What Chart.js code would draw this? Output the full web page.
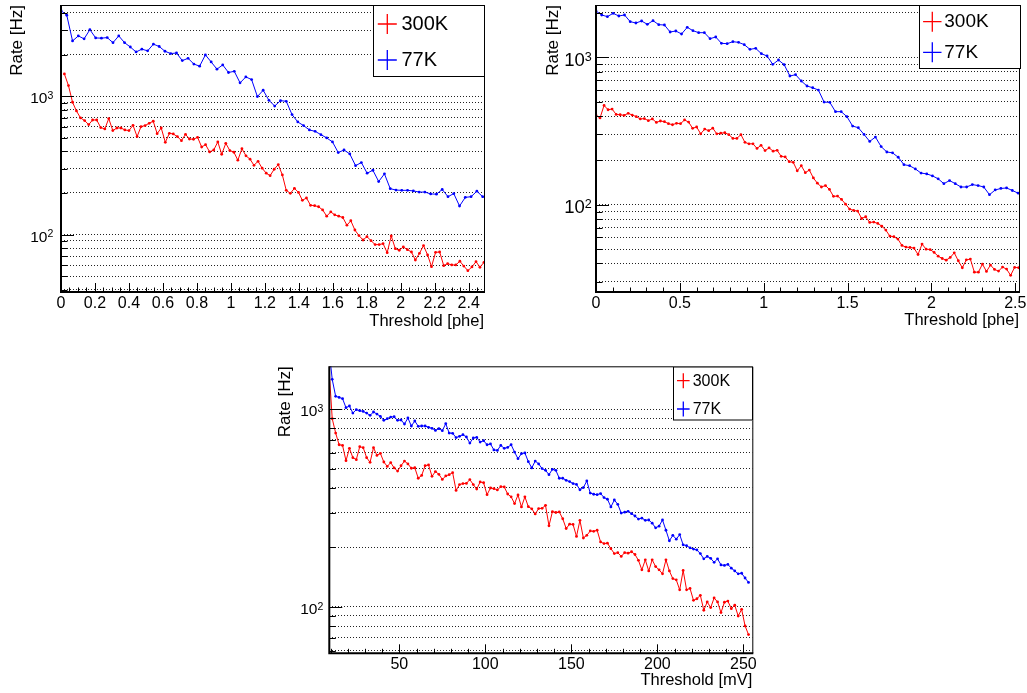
<!DOCTYPE html>
<html>
<head>
<meta charset="utf-8">
<script src="https://cdn.jsdelivr.net/npm/chart.js@4.4.1/dist/chart.umd.min.js"></script>
<style>
  body { margin: 0; background: #fff; width: 1027px; height: 693px; position: relative; overflow: hidden; }
  canvas { position: absolute; }
</style>
</head>
<body>
<canvas id="c1" width="500" height="340" style="left:0px;top:0px"></canvas>
<canvas id="c2" width="497" height="340" style="left:530px;top:0px"></canvas>
<canvas id="c3" width="500" height="353" style="left:270px;top:340px"></canvas>
<script>
// ---- plot 1 (top left), threshold in phe ----
const thr1Red = [0.020, 0.044, 0.068, 0.091, 0.115, 0.139, 0.163, 0.186, 0.210, 0.234, 0.258, 0.281,
  0.305, 0.329, 0.353, 0.376, 0.400, 0.424, 0.448, 0.471, 0.495, 0.519, 0.543, 0.566, 0.590, 0.614,
  0.638, 0.661, 0.685, 0.709, 0.733, 0.756, 0.780, 0.804, 0.828, 0.851, 0.875, 0.899, 0.923, 0.946,
  0.970, 0.994, 1.018, 1.041, 1.065, 1.089, 1.113, 1.136, 1.160, 1.184, 1.208, 1.231, 1.255, 1.279,
  1.303, 1.326, 1.350, 1.374, 1.398, 1.421, 1.445, 1.469, 1.493, 1.516, 1.540, 1.564, 1.588, 1.611,
  1.635, 1.659, 1.683, 1.706, 1.730, 1.754, 1.778, 1.801, 1.825, 1.849, 1.873, 1.896, 1.920, 1.944,
  1.968, 1.991, 2.015, 2.039, 2.063, 2.086, 2.110, 2.134, 2.158, 2.181, 2.205, 2.229, 2.253, 2.276,
  2.300, 2.324, 2.348, 2.371, 2.395, 2.419, 2.443, 2.466, 2.490];
const rate1Red = [1450, 1194, 905, 783, 697, 667, 624, 674, 674, 594, 581, 690, 565, 590, 590, 571,
  565, 617, 511, 603, 614, 638, 660, 537, 590, 465, 540, 534, 511, 478, 531, 491, 489, 505, 430, 447,
  396, 409, 468, 381, 457, 405, 394, 345, 418, 371, 351, 317, 339, 302, 278, 267, 297, 321, 270, 209,
  199, 216, 202, 177, 184, 163, 162, 159, 151, 136, 146, 139, 136, 133, 117, 126, 108, 98.4, 91.5,
  96.7, 90.5, 84.7, 84.7, 86.1, 74.1, 97.8, 79.2, 77.1, 81.5, 77.9, 74.9, 65.6, 73.3, 83.3, 71.3,
  58.7, 74.5, 74.9, 59.7, 61.7, 60.4, 60.4, 64.2, 59.3, 54.9, 58.4, 63.8, 58.1, 63.1];
const thr1Blue = [0, 0.034, 0.068, 0.102, 0.136, 0.170, 0.204, 0.238, 0.272, 0.306, 0.340, 0.374,
  0.408, 0.442, 0.476, 0.510, 0.544, 0.578, 0.612, 0.646, 0.680, 0.714, 0.748, 0.782, 0.816, 0.850,
  0.884, 0.918, 0.952, 0.986, 1.020, 1.054, 1.088, 1.122, 1.156, 1.190, 1.224, 1.258, 1.292, 1.326,
  1.360, 1.394, 1.428, 1.462, 1.496, 1.530, 1.564, 1.598, 1.632, 1.666, 1.700, 1.734, 1.768, 1.802,
  1.836, 1.870, 1.904, 1.938, 1.972, 2.006, 2.040, 2.074, 2.108, 2.142, 2.176, 2.210, 2.244, 2.278,
  2.312, 2.346, 2.380, 2.414, 2.448, 2.482];
const rate1Blue = [4160, 3850, 2510, 2730, 2600, 3030, 2640, 2630, 2655, 2440, 2730, 2440, 2270, 2090,
  2190, 2130, 2380, 2290, 2115, 2035, 2055, 1810, 1880, 1710, 1650, 1990, 1770, 1570, 1685, 1485,
  1515, 1250, 1380, 1320, 995, 1105, 935, 850, 930, 920, 737, 652, 614, 571, 558, 528, 500, 468, 392,
  409, 383, 315, 332, 278, 292, 242, 275, 215, 210, 209, 209, 207, 203, 203, 197, 196, 212, 188, 198,
  161, 186, 188, 206, 188];

// ---- plot 2 (top right), threshold in phe ----
const thr2Red = [0.000, 0.024, 0.048, 0.072, 0.096, 0.120, 0.144, 0.168, 0.192, 0.216,
  0.240, 0.264, 0.288, 0.312, 0.336, 0.360, 0.384, 0.408, 0.432, 0.456,
  0.480, 0.504, 0.528, 0.552, 0.576, 0.600, 0.624, 0.648, 0.672, 0.696,
  0.720, 0.744, 0.768, 0.792, 0.816, 0.840, 0.864, 0.888, 0.912, 0.936,
  0.960, 0.984, 1.008, 1.032, 1.056, 1.080, 1.104, 1.128, 1.152, 1.176,
  1.200, 1.224, 1.248, 1.272, 1.296, 1.320, 1.344, 1.368, 1.392, 1.416,
  1.440, 1.464, 1.488, 1.512, 1.536, 1.560, 1.584, 1.608, 1.632, 1.656,
  1.680, 1.704, 1.728, 1.752, 1.776, 1.800, 1.824, 1.848, 1.872, 1.896,
  1.920, 1.944, 1.968, 1.992, 2.016, 2.040, 2.064, 2.088, 2.112, 2.136,
  2.160, 2.184, 2.208, 2.232, 2.256, 2.280, 2.304, 2.328, 2.352, 2.376,
  2.400, 2.424, 2.448, 2.472, 2.496, 2.520];
const rate2Red = [404, 388, 472, 441, 446, 410, 408, 404, 417, 406,
  396, 382, 384, 372, 382, 362, 370, 366, 355, 349,
  357, 355, 376, 364, 330, 337, 303, 326, 318, 331,
  303, 306, 308, 299, 282, 282, 299, 265, 259, 259,
  241, 253, 233, 243, 231, 234, 213, 211, 196, 194,
  170, 184, 165, 172, 152, 140, 132, 135, 127, 114,
  114.5, 108.7, 101, 93.5, 91.5, 90.6, 80.7, 82.9, 75.9, 76.3,
  74.7, 71.6, 67.3, 61.3, 60.7, 58.5, 53, 51.6, 51.3, 50.8,
  46, 54.1, 50, 49.7, 47.5, 44.8, 43.2, 42.1, 43.9, 47.2,
  41.7, 37.4, 42.3, 42.8, 34.9, 34.9, 39.6, 35.3, 39, 36.4,
  35.5, 37.8, 36.6, 33.2, 37.6, 37.4];
const thr2Blue = [0, 0.034, 0.068, 0.102, 0.136, 0.170, 0.204, 0.238, 0.272, 0.306, 0.340, 0.374,
  0.408, 0.442, 0.476, 0.510, 0.544, 0.578, 0.612, 0.646, 0.680, 0.714, 0.748, 0.782, 0.816, 0.850,
  0.884, 0.918, 0.952, 0.986, 1.020, 1.054, 1.088, 1.122, 1.156, 1.190, 1.224, 1.258, 1.292, 1.326,
  1.360, 1.394, 1.428, 1.462, 1.496, 1.530, 1.564, 1.598, 1.632, 1.666, 1.700, 1.734, 1.768, 1.802,
  1.836, 1.870, 1.904, 1.938, 1.972, 2.006, 2.040, 2.074, 2.108, 2.142, 2.176, 2.210, 2.244, 2.278,
  2.312, 2.346, 2.380, 2.414, 2.448, 2.482, 2.516];
const rate2Blue = [2063, 1938, 1888, 1989, 1908, 1938, 1746, 1710, 1764, 1675,
  1773, 1666, 1657, 1486, 1509, 1440, 1598, 1517, 1470, 1470,
  1339, 1374, 1245, 1238, 1277, 1264, 1219, 1133, 1151, 1059,
  1021, 896, 959, 892, 747, 763, 691, 639, 622, 600,
  497, 495, 428, 428, 396, 342, 333, 300, 269, 288,
  248, 228, 225, 210, 187, 184, 175, 164, 162, 157,
  150, 139, 146, 139, 132, 132, 137, 135, 132, 117,
  126, 129, 130, 125, 120];

// ---- plot 3 (bottom), threshold in mV, both series share thresholds ----
const thr3 = [9, 11, 13, 15, 17, 19, 21, 23, 25, 27, 29, 31, 33, 35, 37, 39, 41, 43, 45, 47, 49,
  51, 53, 55, 57, 59, 61, 63, 65, 67, 69, 71, 73, 75, 77, 79, 81, 83, 85, 87, 89, 91, 93, 95, 97, 99,
  101, 103, 105, 107, 109, 111, 113, 115, 117, 119, 121, 123, 125, 127, 129, 131, 133, 135, 137, 139,
  141, 143, 145, 147, 149, 151, 153, 155, 157, 159, 161, 163, 165, 167, 169, 171, 173, 175, 177, 179,
  181, 183, 185, 187, 189, 191, 193, 195, 197, 199, 201, 203, 205, 207, 209, 211, 213, 215, 217, 219,
  221, 223, 225, 227, 229, 231, 233, 235, 237, 239, 241, 243, 245, 247, 249, 251, 253];
const rate3Red = [1670,
  894, 756, 660, 655, 548, 633, 568, 555, 645, 638,
  568, 538, 638, 583, 597, 540, 513, 536, 504, 486,
  517, 546, 528, 502, 505, 447, 462, 517, 522, 457,
  483, 468, 441, 459, 466, 477, 388, 415, 420, 421,
  440, 415, 394, 428, 424, 369, 399, 396, 390, 405,
  404, 372, 360, 333, 368, 320, 360, 321, 313, 295,
  314, 315,
  326, 257, 303, 300, 302, 279, 249, 262, 261, 227,
  274, 223, 230, 242, 241, 244, 213, 209, 210, 197,
  186, 188, 180, 188, 187, 190, 184, 172, 154, 173,
  152, 173, 160, 154, 147, 173, 152, 139, 137, 122,
  153, 122, 124, 108, 110, 114.5, 96.2, 106, 99.2, 111,
  106, 93.6, 105.6, 107, 98, 102, 90, 97.3, 80.2, 72.5];
const rate3Blue = [2050,
  1412, 1159, 1145, 1128, 1016, 1036, 954, 992, 981, 973,
  954, 929, 966, 943, 918, 877, 894, 911, 914, 877,
  880, 840, 901, 821, 870, 818, 821, 821, 808, 799,
  780, 796, 777, 843, 756, 754, 717, 728, 742, 722,
  673, 714, 719, 681, 692, 660, 666, 621, 618, 655,
  633, 640, 660, 606, 561, 595, 600, 542, 504, 546,
  528, 500,
  490, 466, 496, 490, 447, 447, 436, 430, 420, 416,
  391, 401, 433, 376, 371, 369, 374, 357, 350, 320,
  347, 330, 298, 301, 304, 296, 288, 278, 281, 274,
  275, 265, 251, 256, 275, 244, 216, 230, 220, 232,
  206, 204, 199, 196, 194, 186, 175, 180, 176, 168,
  175, 163, 162, 164, 157, 152, 147, 148, 140, 133];

// ---- axes ----
const x1Ticks = [0, 0.2, 0.4, 0.6, 0.8, 1, 1.2, 1.4, 1.6, 1.8, 2, 2.2, 2.4];
const x2Ticks = [0, 0.5, 1, 1.5, 2, 2.5];
const x3Ticks = [50, 100, 150, 200, 250];
const y1Ticks = [40, 50, 60, 70, 80, 90, 100, 200, 300, 400, 500, 600, 700, 800, 900, 1000, 2000, 3000, 4000];
const y2Ticks = [30, 40, 50, 60, 70, 80, 90, 100, 200, 300, 400, 500, 600, 700, 800, 900, 1000, 2000];
const y3Ticks = [60, 70, 80, 90, 100, 200, 300, 400, 500, 600, 700, 800, 900, 1000];
const yLabelValues = [100, 1000];
const yLabelBase = ['10', '10'];
const yLabelExp = ['2', '3'];
const seriesLabels = ['300K', '77K'];
const seriesColors = ['#ff0000', '#0000ff'];

const FONT = "'Liberation Sans', Arial, Helvetica, sans-serif";
Chart.defaults.font.family = FONT;
Chart.defaults.color = '#000';

const pts = (xs, ys) => xs.map((x, i) => ({ x: x, y: ys[i] }));

// ROOT-like frame, inward ticks, 10^n labels and boxed legend
const rootFrame = {
  id: 'rootFrame',
  afterDraw(chart, args, o) {
    const { ctx, chartArea: a, scales: { x, y } } = chart;
    ctx.save();
    ctx.strokeStyle = '#000';
    ctx.lineWidth = 1;
    ctx.beginPath();
    o.yTicks.forEach(v => {
      const py = Math.round(y.getPixelForValue(v)) + 0.5;
      const len = yLabelValues.includes(v) ? 13 : 6.5;
      ctx.moveTo(a.left, py); ctx.lineTo(a.left + len, py);
    });
    for (let v = o.minorStart; v <= x.max + 1e-9; v += o.minorStep) {
      const px = Math.round(x.getPixelForValue(v)) + 0.5;
      const major = o.xTicks.some(t => Math.abs(t - v) < 1e-6);
      ctx.moveTo(px, a.bottom); ctx.lineTo(px, a.bottom - (major ? 9 : 4.5));
    }
    ctx.stroke();
    // frame: thin top/right, heavier axes
    ctx.beginPath();
    ctx.moveTo(a.left, a.top + 0.5); ctx.lineTo(a.right + 0.5, a.top + 0.5); ctx.lineTo(a.right + 0.5, a.bottom);
    ctx.stroke();
    ctx.lineWidth = 2;
    ctx.beginPath();
    ctx.moveTo(a.left, a.top); ctx.lineTo(a.left, a.bottom); ctx.lineTo(a.right + 1, a.bottom);
    ctx.stroke();
    // y labels 10^n
    const S = o.ySize, s = S * 0.68;
    ctx.fillStyle = '#000';
    ctx.textAlign = 'right';
    ctx.textBaseline = 'alphabetic';
    yLabelValues.forEach((v, i) => {
      if (v < y.min || v > y.max) return;
      const py = y.getPixelForValue(v);
      const base = py + 0.46 * S;
      const right = a.left - o.yPad;
      ctx.font = s + 'px ' + FONT;
      const ew = ctx.measureText(yLabelExp[i]).width;
      ctx.fillText(yLabelExp[i], right, base - 0.716 * S + 0.716 * s - 1);
      ctx.font = S + 'px ' + FONT;
      ctx.fillText(yLabelBase[i], right - ew, base);
    });
    // legend
    const L = o.legend;
    ctx.fillStyle = '#fff';
    ctx.fillRect(L.box[0], L.box[1], L.box[2], L.box[3]);
    ctx.lineWidth = 1;
    ctx.strokeStyle = '#000';
    ctx.strokeRect(L.box[0] + 0.5, L.box[1] + 0.5, L.box[2] - 1, L.box[3] - 1);
    chart.data.datasets.forEach((ds, i) => {
      const cy = L.rows[i];
      ctx.strokeStyle = ds.borderColor;
      ctx.lineWidth = 1.3;
      ctx.beginPath();
      ctx.moveTo(L.symX - L.halfW, cy); ctx.lineTo(L.symX + L.halfW, cy);
      ctx.moveTo(L.symX, cy - L.halfH); ctx.lineTo(L.symX, cy + L.halfH);
      ctx.stroke();
      ctx.fillStyle = '#000';
      ctx.font = L.size + 'px ' + FONT;
      ctx.textAlign = 'left';
      ctx.textBaseline = 'middle';
      ctx.fillText(ds.label, L.textX, cy + 0.5);
    });
    ctx.restore();
  }
};

function makePlot(id, c) {
  return new Chart(document.getElementById(id), {
    type: 'scatter',
    data: {
      datasets: [
        { label: seriesLabels[0], data: pts(c.redX, c.redY), borderColor: seriesColors[0], backgroundColor: seriesColors[0],
          showLine: true, borderWidth: 1, pointRadius: 1.4, pointBorderWidth: 0, pointHoverRadius: 0 },
        { label: seriesLabels[1], data: pts(c.blueX, c.blueY), borderColor: seriesColors[1], backgroundColor: seriesColors[1],
          showLine: true, borderWidth: 1, pointRadius: 1.4, pointBorderWidth: 0, pointHoverRadius: 0 }
      ]
    },
    options: {
      responsive: false,
      animation: false,
      devicePixelRatio: 1,
      layout: { padding: c.pad },
      events: [],
      plugins: {
        legend: { display: false },
        tooltip: { enabled: false },
        rootFrame: { yTicks: c.yTicks, xTicks: c.xTicks, minorStart: c.minorStart, minorStep: c.minorStep,
          ySize: c.ySize, yPad: c.yPad, legend: c.legend }
      },
      scales: {
        x: {
          type: 'linear', min: c.xMin, max: c.xMax,
          grid: { display: false, drawTicks: false },
          border: { display: false },
          afterBuildTicks: s => { s.ticks = c.xTicks.map(v => ({ value: v })); },
          afterFit: s => { s.height = c.xH; s.paddingLeft = 0; s.paddingRight = 0; },
          ticks: { autoSkip: false, maxRotation: 0, padding: 2, font: { size: 16 }, color: '#000', callback: v => String(v) },
          title: { display: true, text: c.xTitle, align: 'end', color: '#000', font: { size: 16.5 }, padding: { top: 0, bottom: c.xTitlePad } }
        },
        y: {
          type: 'logarithmic', min: c.yMin, max: c.yMax,
          grid: { color: '#222', lineWidth: 1, drawTicks: false },
          border: { display: false, dash: [1, 2] },
          afterBuildTicks: s => { s.ticks = c.yTicks.map(v => ({ value: v })); },
          afterFit: s => { s.width = c.yW; s.paddingTop = 0; s.paddingBottom = 0; },
          ticks: { display: false, autoSkip: false },
          title: { display: true, text: 'Rate [Hz]', align: 'end', color: '#000', font: { size: 17 }, padding: { top: c.yTitlePad, bottom: 0 } }
        }
      }
    },
    plugins: [rootFrame]
  });
}

makePlot('c1', {
  redX: thr1Red, redY: rate1Red, blueX: thr1Blue, blueY: rate1Blue,
  xMin: 0, xMax: 2.49, yMin: 38.5, yMax: 4567,
  xTicks: x1Ticks, yTicks: y1Ticks, minorStart: 0, minorStep: 0.05,
  pad: { left: 0, top: 5, right: 16, bottom: 0 }, yW: 61, xH: 48,
  yPad: 7.7, ySize: 15.5, yTitlePad: 7.3, xTitle: 'Threshold [phe]', xTitlePad: 8.6,
  legend: { box: [373, 5, 112, 72], rows: [24, 60], symX: 387.3, halfW: 9.5, halfH: 10, textX: 401.5, size: 20 }
});

makePlot('c2', {
  redX: thr2Red, redY: rate2Red, blueX: thr2Blue, blueY: rate2Blue,
  xMin: 0, xMax: 2.522, yMin: 25.6, yMax: 2265,
  xTicks: x2Ticks, yTicks: y2Ticks, minorStart: 0, minorStep: 0.1,
  pad: { left: 0, top: 5, right: 8, bottom: 0 }, yW: 66, xH: 48,
  yPad: 4.3, ySize: 18.5, yTitlePad: 13.1, xTitle: 'Threshold [phe]', xTitlePad: 9.3,
  legend: { box: [389, 5, 102, 64], rows: [21.7, 52.3], symX: 402.3, halfW: 9.2, halfH: 10, textX: 414.3, size: 19 }
});

makePlot('c3', {
  redX: thr3, redY: rate3Red, blueX: thr3, blueY: rate3Blue,
  xMin: 9.3, xMax: 255.2, yMin: 58.3, yMax: 1644,
  xTicks: x3Ticks, yTicks: y3Ticks, minorStart: 10, minorStep: 10,
  pad: { left: 0, top: 26.3, right: 17.7, bottom: 0 }, yW: 59.3, xH: 39.7,
  yPad: 6, ySize: 15.5, yTitlePad: 5.3, xTitle: 'Threshold [mV]', xTitlePad: 2.2,
  legend: { box: [403, 26.5, 80, 54], rows: [40.7, 69], symX: 413.3, halfW: 6.3, halfH: 7.5, textX: 422.7, size: 16 }
});
</script>
</body>
</html>
